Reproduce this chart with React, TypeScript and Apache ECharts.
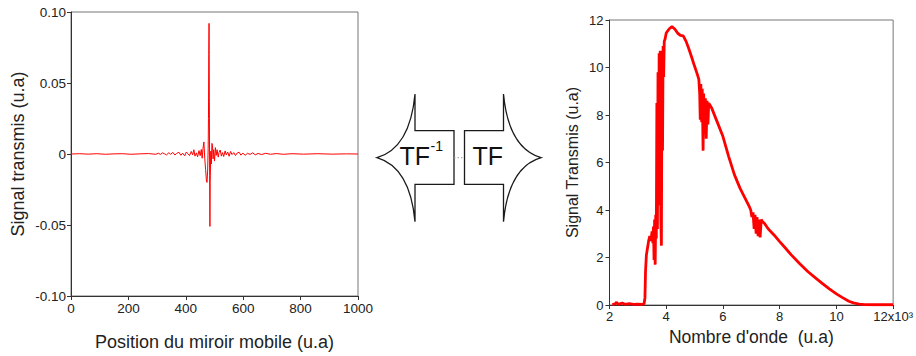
import React, { useEffect, useRef } from "react";
import * as echarts from "echarts";

// Interferogram (left)
const interfX = [
  0, 30, 60, 90, 120, 150, 180, 210, 240, 270,
  295, 305, 312, 318, 326, 333, 341, 347, 355, 362,
  368, 376, 383, 389, 396, 402, 407, 413, 419, 424,
  428, 432, 437, 441, 446, 450, 454, 457, 460, 463,
  466, 469, 472, 474, 476, 478, 479, 480, 481, 482,
  483, 484, 485, 487, 489, 491, 493, 495, 497, 500,
  503, 506, 509, 513, 516, 520, 524, 528, 532, 537,
  541, 546, 551, 556, 561, 567, 573, 579, 586, 592,
  599, 607, 615, 624, 633, 642, 652, 664, 678, 695,
  715, 740, 770, 810, 860, 910, 960, 1000,
];
const interfY = [
  0, 0.0002, -0.0001, 0.0002, -0.0002, 0.0001, 0.0002, -0.0002, 0.0001, 0.0003,
  -0.0002, 0.0005, -0.0003, 0.0008, 0.0001, -0.0006, 0.0009, -0.0002, 0.0011, -0.0007,
  0.0004, 0.0012, -0.0009, 0.0006, -0.0013, 0.0014, 0.0002, -0.0011, 0.0018, -0.0006,
  0.003, -0.0015, 0.0008, -0.002, 0.0024, -0.0012, 0.0032, -0.003, 0.004, 0.0085,
  -0.003, -0.011, -0.019, -0.02, -0.012, 0.004, 0.025, 0.07, 0.092, 0.04,
  -0.015, -0.051, -0.02, 0.002, -0.007, 0.0075, 0.006, -0.0035, 0.003, -0.005,
  0.0045, -0.001, 0.003, -0.0022, 0.0012, 0.0028, -0.0015, 0.001, -0.0018, 0.0022,
  -0.0006, 0.0014, -0.0016, 0.0018, -0.0004, 0.001, -0.0011, 0.0007, 0.0012, -0.0008,
  0.0006, -0.0009, 0.0005, -0.0003, 0.0008, -0.0006, 0.0004, -0.0004, 0.0005, -0.0002,
  0.0003, -0.0002, 0.0002, -0.0001, 0.0002, -0.0001, 0.0001, 0,
];

// Spectrum (right), x in thousands
const specX = [2.1, 2.2, 2.25, 2.3, 2.45, 2.55, 2.7, 2.85, 3.0, 3.15, 3.22, 3.25, 3.27, 3.3, 3.34, 3.38, 3.42, 3.46, 3.5, 3.53, 3.55, 3.57, 3.59, 3.61, 3.63, 3.65, 3.67, 3.69, 3.71, 3.73, 3.75, 3.77, 3.79, 3.81, 3.83, 3.85, 3.87, 3.89, 3.91, 3.93, 3.96, 4.0, 4.1, 4.2, 4.3, 4.4, 4.5, 4.6, 4.7, 4.8, 4.9, 5.0, 5.1, 5.15, 5.18, 5.2, 5.22, 5.25, 5.27, 5.3, 5.32, 5.35, 5.38, 5.41, 5.44, 5.47, 5.5, 5.55, 5.6, 5.8, 6.0, 6.2, 6.4, 6.6, 6.8, 6.93, 6.98, 7.02, 7.06, 7.1, 7.13, 7.17, 7.2, 7.24, 7.28, 7.31, 7.35, 7.4, 7.46, 7.6, 7.8, 8.0, 8.2, 8.4, 8.7, 9.0, 9.25, 9.5, 9.75, 10.0, 10.2, 10.44, 10.6, 10.8, 11.0, 11.3, 11.6, 12.0];
const specY = [0.02, 0.05, 0.12, 0.03, 0.08, 0.03, 0.06, 0.03, 0.04, 0.03, 0.05, 0.3, 1.4, 2.1, 2.4, 2.7, 2.9, 2.7, 3.1, 2.6, 3.3, 1.9, 3.6, 1.7, 3.8, 2.8, 8.5, 3.2, 9.8, 4.2, 10.6, 6.0, 10.7, 3.6, 2.5, 9.8, 6.5, 10.9, 9.6, 11.1, 11.2, 11.45, 11.62, 11.72, 11.62, 11.45, 11.35, 11.33, 11.1, 10.78, 10.42, 10.05, 9.7, 9.5, 8.9, 7.8, 9.3, 7.7, 9.1, 6.5, 8.9, 7.2, 8.7, 7.0, 8.6, 7.6, 8.5, 8.4, 8.3, 7.7, 7.09, 6.26, 5.5, 4.92, 4.45, 4.14, 4.0, 3.7, 3.9, 3.2, 3.8, 3.0, 3.7, 2.9, 3.6, 2.85, 3.6, 3.5, 3.44, 3.2, 2.95, 2.67, 2.4, 2.12, 1.75, 1.4, 1.15, 0.91, 0.68, 0.47, 0.32, 0.16, 0.09, 0.04, 0.015, 0.01, 0.01, 0.01];

const leftYTicks = [-0.1, 0.1, 0.05];
const leftXTicks = [0, 1000, 200];
const rightXTicks = [2, 12, 2];
const rightYTicks = [0, 12, 2];

const FONT = "Liberation Sans, Arial, Helvetica, sans-serif";
const AX = "#333";
const TXT = "#222";

const arrowLeftD =
  "M415 94 L415 130.7 L454 130.7 L454 184.3 L415 184.3 L415 221.7 Q410 167.4 377 157.7 Q410 148 415 94 Z";
const arrowRightD =
  "M503.5 94 L503.5 130.7 L464.5 130.7 L464.5 184.3 L503.5 184.3 L503.5 221.7 Q508.5 167.4 541 157.7 Q508.5 148 503.5 94 Z";

let registered = false;
function registerShapes() {
  if (registered) return;
  registered = true;
  echarts.graphic.registerShape("arrowL", echarts.graphic.extendPath(arrowLeftD, {}) as any);
  echarts.graphic.registerShape("arrowR", echarts.graphic.extendPath(arrowRightD, {}) as any);
}

export default function App() {
  const ref = useRef<HTMLDivElement>(null);
  useEffect(() => {
    if (!ref.current) return;
    registerShapes();
    const chart = echarts.init(ref.current, undefined, { renderer: "svg" });
    const axisCommon = {
      axisLine: { show: true, onZero: false, lineStyle: { color: AX, width: 1 } },
      axisTick: { show: true, inside: false, length: 4, lineStyle: { color: AX } },
      splitLine: { show: false },
    };
    chart.setOption({
      animation: false,
      backgroundColor: "#fff",
      textStyle: { fontFamily: FONT },
      grid: [
        { left: 71, top: 12, width: 287, height: 286, show: true, borderColor: "#777", borderWidth: 1, backgroundColor: "transparent" },
        { left: 609.5, top: 20, width: 285.5, height: 285, show: true, borderColor: "#777", borderWidth: 1, backgroundColor: "transparent" },
      ],
      xAxis: [
        {
          type: "value", gridIndex: 0, min: leftXTicks[0], max: leftXTicks[1], interval: leftXTicks[2],
          ...axisCommon,
          axisLabel: { color: TXT, fontSize: 13.5, margin: 5, fontFamily: FONT, formatter: (v: number) => String(v) },
          name: "Position du miroir mobile (u.a)", nameLocation: "middle", nameGap: 37,
          nameTextStyle: { color: TXT, fontSize: 18, fontFamily: FONT },
        },
        {
          type: "value", gridIndex: 1, min: rightXTicks[0], max: rightXTicks[1], interval: rightXTicks[2],
          ...axisCommon,
          axisLabel: {
            color: TXT, fontSize: 13, margin: 5, fontFamily: FONT,
            formatter: (v: number) => (v === 12 ? "12x10³" : String(v)),
          },
          name: "Nombre d'onde  (u.a)", nameLocation: "middle", nameGap: 22,
          nameTextStyle: { color: TXT, fontSize: 17.5, fontFamily: FONT },
        },
      ],
      yAxis: [
        {
          type: "value", gridIndex: 0, min: leftYTicks[0], max: leftYTicks[1], interval: leftYTicks[2],
          ...axisCommon,
          axisLabel: {
            color: TXT, fontSize: 13.5, margin: 5, fontFamily: FONT,
            formatter: (v: number) => (Math.abs(v) < 1e-9 ? "0" : v.toFixed(2)),
          },
          name: "Signal transmis (u.a)", nameLocation: "middle", nameGap: 44,
          nameTextStyle: { color: TXT, fontSize: 18, fontFamily: FONT },
        },
        {
          type: "value", gridIndex: 1, min: rightYTicks[0], max: rightYTicks[1], interval: rightYTicks[2],
          ...axisCommon,
          axisLabel: { color: TXT, fontSize: 13, margin: 6, fontFamily: FONT },
          name: "Signal Transmis (u.a)", nameLocation: "middle", nameGap: 29,
          nameTextStyle: { color: TXT, fontSize: 16, fontFamily: FONT },
        },
      ],
      series: [
        {
          type: "line", xAxisIndex: 0, yAxisIndex: 0, symbol: "none",
          lineStyle: { color: "#ff0000", width: 1 },
          data: interfX.map((x, i) => [x, interfY[i]]),
        },
        {
          type: "line", xAxisIndex: 1, yAxisIndex: 1, symbol: "none",
          lineStyle: { color: "#ff0000", width: 2.8 },
          data: specX.map((x, i) => [x, specY[i]]),
        },
      ],
      graphic: [
        { type: "arrowL", x: 0, y: 0, style: { fill: "#fff", stroke: "#1a1a1a", lineWidth: 1.3 } },
        { type: "arrowR", x: 0, y: 0, style: { fill: "#fff", stroke: "#1a1a1a", lineWidth: 1.3 } },
        { type: "line", shape: { x1: 454, y1: 157.7, x2: 464.5, y2: 157.7 }, style: { stroke: "#999", lineWidth: 1, lineDash: [1.5, 2] } },
        { type: "text", x: 399.5, y: 168, style: { text: "TF", fill: "#111", font: `25px ${FONT}`, verticalAlign: "bottom" } },
        { type: "text", x: 430.5, y: 139, style: { text: "-1", fill: "#111", font: `14px ${FONT}`, verticalAlign: "top" } },
        { type: "text", x: 472.5, y: 168, style: { text: "TF", fill: "#111", font: `25px ${FONT}`, verticalAlign: "bottom" } },
      ],
    });
    return () => chart.dispose();
  }, []);
  return (
    <div
      ref={ref}
      style={{ position: "fixed", left: 0, top: 0, width: 916, height: 356, background: "#fff" }}
    />
  );
}
